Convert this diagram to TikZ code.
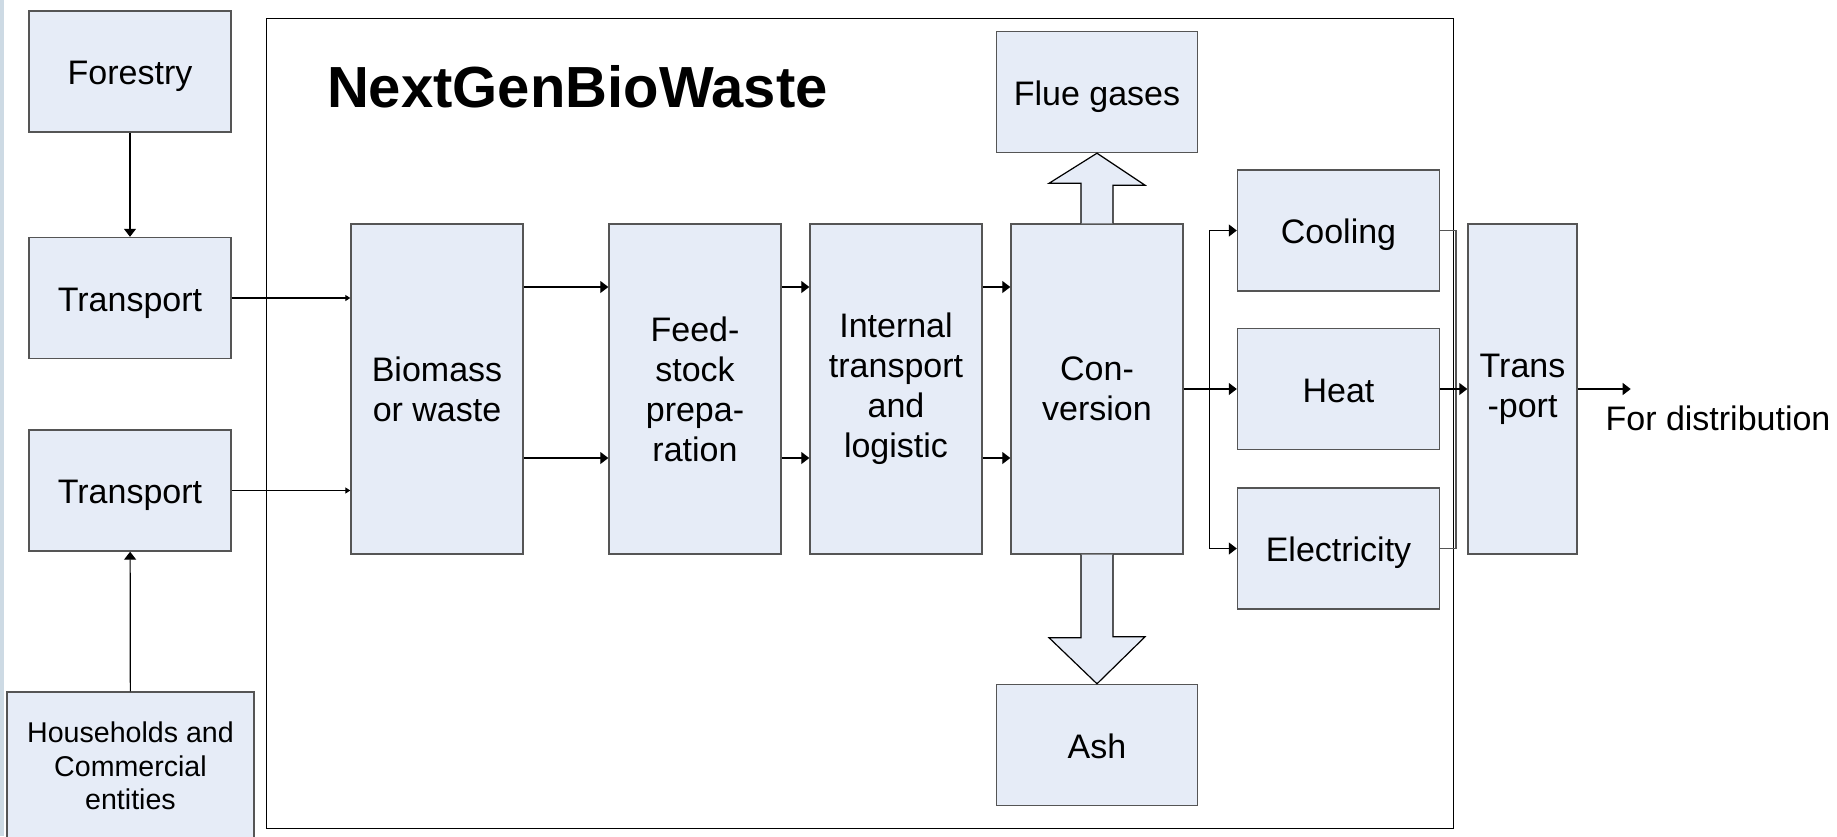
\documentclass[tikz,border=0pt]{standalone}
\usepackage{fontspec}
\setmainfont{Liberation Sans}
\usetikzlibrary{arrows.meta,calc}
\definecolor{boxfill}{RGB}{230,236,247}
\definecolor{boxline}{RGB}{85,85,85}
\definecolor{edgestrip}{RGB}{205,218,228}

\begin{document}
\begin{tikzpicture}[x=0.5pt, y=-0.5pt,
    box/.style = {draw=boxline, fill=boxfill, line width=0.7pt, align=center, inner sep=0pt, font=\fontsize{17}{20}\selectfont},
    smallbox/.style = {box, minimum width=101pt, minimum height=60.5pt, text height=13.3pt, text depth=0.3pt},
    tallbox/.style = {box, minimum width=86pt, minimum height=165pt},
    flow/.style = {line width=0.6pt, -{Triangle[length=4pt,width=6pt]}},
    tinyflow/.style = {line width=0.6pt, -{Triangle[length=2.5pt,width=3pt]}},
    blockarrow/.style = {draw=black, fill=boxfill, line width=0.6pt, line join=miter}]
    \useasboundingbox (0,0) rectangle (1837,836);
    \clip (0,0) rectangle (1837,836);
    \fill[edgestrip] (0,0) rectangle (4,836);
    \draw[line width=0.5pt] (266,18) rectangle (1453,828);
    \node[anchor=west, font=\fontsize{29}{34}\selectfont\bfseries] (title) at (320,87) {NextGenBioWaste};

    % sources
    \node[smallbox] (forestry) at (130,71.5) {Forestry};
    \node[smallbox] (transportA) at (130,298) {Transport};
    \node[smallbox] (transportB) at (130,490.5) {Transport};
    \node[box, minimum width=123.5pt, minimum height=74pt, font=\fontsize{14.3}{16.7}\selectfont] (households) at (130.5,766) {Households and\\Commercial\\entities};

    % main chain
    \node[tallbox] (biomass) at (437,389) {Biomass\\or waste};
    \node[tallbox] (feed) at (695,389) {Feed-\\stock\\prepa-\\ration};
    \node[tallbox] (internal) at (896,389) {Internal\\transport\\and\\logistic};
    \node[tallbox] (conv) at (1097,389) {Con-\\version};
    \node[smallbox, minimum width=100.5pt] (flue) at (1097,92) {Flue gases};
    \node[smallbox, minimum width=100.5pt] (ash) at (1097,745) {Ash};
    \node[smallbox] (cooling) at (1338.5,230.5) {Cooling};
    \node[smallbox] (heat) at (1338.5,389) {Heat};
    \node[smallbox] (elec) at (1338.5,548.5) {Electricity};
    \node[tallbox, minimum width=54.5pt] (transportC) at (1522.5,389) {Trans\\-port};
    \node[font=\fontsize{17}{20}\selectfont] (distlabel) at (1718,418) {For distribution};

    \draw[flow] (forestry) -- (transportA);
    \draw[flow] (households) -- (transportB);
    \draw[tinyflow] (transportA.east) -- (transportA.east -| biomass.west);
    \draw[tinyflow] (transportB.east) -- (transportB.east -| biomass.west);
    \foreach \a/\b in {biomass/feed, feed/internal, internal/conv}{
        \draw[flow] ([yshift=51pt]\a.east) -- ([yshift=51pt]\b.west);
        \draw[flow] ([yshift=-34.5pt]\a.east) -- ([yshift=-34.5pt]\b.west);
    }

    \draw[line width=0.6pt] (conv.east) -- ++(26,0) coordinate (bus);
    \draw[flow] (bus) |- (cooling.west);
    \draw[flow] (bus) |- (elec.west);
    \draw[flow] (bus) -- (heat.west);
    \draw[line width=0.8pt, draw=boxline] (cooling.east) -- ++(16,0) |- (elec.east);
    \draw[flow] (heat.east) -- (transportC.west);
    \draw[flow] (transportC.east) -- ++(53,0) coordinate (out);

    \draw[blockarrow] ($(conv.north)+(-16,0)$) -- ++(0,-40) -- ++(-32,0) -- (flue.south) -- ++(48,32) -- ++(-32,0) -- ($(conv.north)+(16,0)$);
    \draw[blockarrow] ($(conv.south)+(-16,0)$) -- ++(0,83) -- ++(-32,0) -- (ash.north) -- ++(48,-47) -- ++(-32,0) -- ($(conv.south)+(16,0)$);
\end{tikzpicture}
\end{document}
